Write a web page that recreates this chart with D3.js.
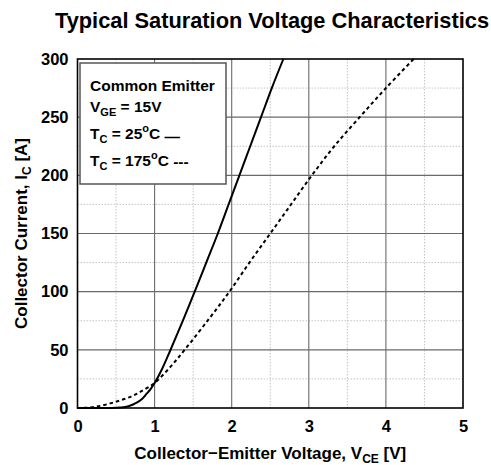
<!DOCTYPE html>
<html><head><meta charset="utf-8">
<script src="https://cdn.jsdelivr.net/npm/d3@7"></script>
<style>body{margin:0;background:#fff}</style>
</head><body>
<svg id="c" width="491" height="465"></svg>
<script>
// ---- data ----
const xTicks = [0, 1, 2, 3, 4, 5];
const yTicks = [0, 50, 100, 150, 200, 250, 300];
const xMinor = [0.5, 1.5, 2.5, 3.5, 4.5];
const yMinor = [25, 75, 125, 175, 225, 275];
// Tc = 25°C (solid)
const v25 = [0, 0.3, 0.5, 0.6, 0.66, 0.72, 0.78, 0.84, 0.9, 0.95, 1.0, 1.1, 1.2, 1.36, 1.52, 1.67, 1.82, 1.96, 2.1, 2.24, 2.38, 2.52, 2.67];
const i25 = [0, 0, 0.2, 0.7, 1.5, 3, 5, 8, 12.5, 16.5, 21.5, 34, 49, 74, 100, 125, 150, 175, 200, 225, 250, 275, 300];
// Tc = 175°C (dashed)
const v175 = [0, 0.1, 0.23, 0.4, 0.55, 0.7, 0.83, 1.0, 1.2, 1.39, 1.71, 1.97, 2.23, 2.5, 2.77, 3.04, 3.33, 3.66, 4.0, 4.36];
const i175 = [0, 0.2, 1, 3.5, 6.5, 10, 14.5, 21.5, 35, 50, 77, 100, 125, 150, 175, 200, 225, 250, 275, 300];

const FONT = "'Liberation Sans', Arial, Helvetica, sans-serif";
const svg = d3.select("#c").style("font-family", FONT);
const L = 77.5, R = 463, T = 59, B = 408;
const x = d3.scaleLinear().domain([0, 5]).range([L, R]);
const y = d3.scaleLinear().domain([0, 300]).range([B, T]);

// minor grid
const g = svg.append("g");
g.selectAll("line.mx").data(xMinor).join("line")
  .attr("x1", d => x(d)).attr("x2", d => x(d)).attr("y1", T).attr("y2", B)
  .attr("stroke", "#c4c4c4").attr("stroke-width", 1).attr("stroke-dasharray", "1.5,1.5");
g.selectAll("line.my").data(yMinor).join("line")
  .attr("y1", d => y(d)).attr("y2", d => y(d)).attr("x1", L).attr("x2", R)
  .attr("stroke", "#c4c4c4").attr("stroke-width", 1).attr("stroke-dasharray", "1.5,1.5");
// major grid
g.selectAll("line.Mx").data(xTicks.slice(1, -1)).join("line")
  .attr("x1", d => x(d)).attr("x2", d => x(d)).attr("y1", T).attr("y2", B)
  .attr("stroke", "#6a6a6a").attr("stroke-width", 1.1);
g.selectAll("line.My").data(yTicks.slice(1, -1)).join("line")
  .attr("y1", d => y(d)).attr("y2", d => y(d)).attr("x1", L).attr("x2", R)
  .attr("stroke", "#6a6a6a").attr("stroke-width", 1.1);

// curves
const line = d3.line().x(d => x(d[0])).y(d => y(d[1])).curve(d3.curveCatmullRom.alpha(0.5));
svg.append("path").datum(v25.map((v, k) => [v, i25[k]]))
  .attr("d", line).attr("fill", "none").attr("stroke", "#000").attr("stroke-width", 2);
svg.append("path").datum(v175.map((v, k) => [v, i175[k]]))
  .attr("d", line).attr("fill", "none").attr("stroke", "#000").attr("stroke-width", 2)
  .attr("stroke-dasharray", "3.5,3");

// frame
svg.append("rect").attr("x", L).attr("y", T).attr("width", R - L).attr("height", B - T)
  .attr("fill", "none").attr("stroke", "#000").attr("stroke-width", 1.6);

// axes
const ax = svg.append("g").attr("transform", `translate(0,${B})`)
  .call(d3.axisBottom(x).tickValues(xTicks).tickFormat(d3.format("d")).tickSize(0).tickPadding(12));
ax.select(".domain").remove();
ax.selectAll("text").attr("font-family", FONT).attr("font-size", 16.5).attr("font-weight", "bold").attr("fill", "#000");
const ay = svg.append("g").attr("transform", `translate(${L},0)`)
  .call(d3.axisLeft(y).tickValues(yTicks).tickFormat(d3.format("d")).tickSize(0).tickPadding(9));
ay.select(".domain").remove();
ay.selectAll("text").attr("font-family", FONT).attr("font-size", 16.5).attr("font-weight", "bold").attr("fill", "#000");

// title
svg.append("text").attr("x", 272).attr("y", 28).attr("text-anchor", "middle")
  .attr("font-size", 21.8).attr("font-weight", "bold").text("Typical Saturation Voltage Characteristics");

// x label
const xl = svg.append("text").attr("x", (L + R) / 2).attr("y", 459).attr("text-anchor", "middle")
  .attr("font-size", 17).attr("font-weight", "bold");
xl.append("tspan").text("Collector\u2212Emitter Voltage, V");
xl.append("tspan").attr("font-size", 12).attr("dy", 4).text("CE");
xl.append("tspan").attr("dy", -4).text(" [V]");

// y label
const yl = svg.append("text").attr("transform", `translate(27,${(T + B) / 2}) rotate(-90)`)
  .attr("text-anchor", "middle").attr("font-size", 17).attr("font-weight", "bold");
yl.append("tspan").text("Collector Current, I");
yl.append("tspan").attr("font-size", 12).attr("dy", 4).text("C");
yl.append("tspan").attr("dy", -4).text(" [A]");

// legend box
svg.append("rect").attr("x", 80).attr("y", 63).attr("width", 146).attr("height", 121)
  .attr("fill", "#fff").attr("stroke", "#555").attr("stroke-width", 1.5);
const lg = svg.append("g").attr("font-size", 15.5).attr("font-weight", "bold");
lg.append("text").attr("x", 90).attr("y", 91).text("Common Emitter");
const l2 = lg.append("text").attr("x", 90).attr("y", 112);
l2.append("tspan").text("V");
l2.append("tspan").attr("font-size", 11).attr("dy", 4).text("GE");
l2.append("tspan").attr("dy", -4).text(" = 15V");
const l3 = lg.append("text").attr("x", 90).attr("y", 139);
l3.append("tspan").text("T");
l3.append("tspan").attr("font-size", 11).attr("dy", 4).text("C");
l3.append("tspan").attr("dy", -4).text(" = 25");
l3.append("tspan").attr("font-size", 11).attr("dy", -7).text("o");
l3.append("tspan").attr("dy", 7).text("C ");
l3.append("tspan").attr("dy", 3).text("\u2014");
const l4 = lg.append("text").attr("x", 90).attr("y", 166);
l4.append("tspan").text("T");
l4.append("tspan").attr("font-size", 11).attr("dy", 4).text("C");
l4.append("tspan").attr("dy", -4).text(" = 175");
l4.append("tspan").attr("font-size", 11).attr("dy", -7).text("o");
l4.append("tspan").attr("dy", 7).text("C ");
l4.append("tspan").attr("dy", 1).text("---");
</script>
</body></html>
